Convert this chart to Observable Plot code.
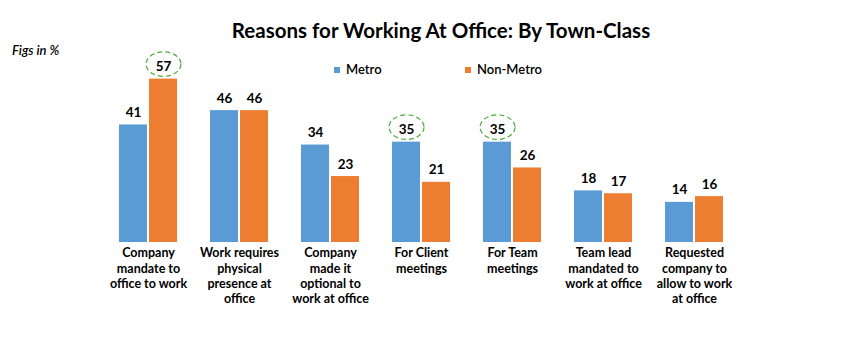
<!DOCTYPE html>
<html>
<head>
<meta charset="utf-8">
<script src="https://cdn.jsdelivr.net/npm/d3@7"></script>
<script src="https://cdn.jsdelivr.net/npm/@observablehq/plot@0.6"></script>
<style>
  body { margin: 0; background: #fff; }
  #wrap { position: relative; width: 851px; height: 350px; font-family: Lato, "Open Sans", sans-serif; color: #000; }
  #title { position: absolute; left: 0; width: 882px; top: 16px; text-align: center; font-weight: bold; font-size: 20.5px; line-height: 28px; }
  #note { position: absolute; left: 12px; top: 42px; font-style: italic; font-weight: 600; font-size: 13px; }
  #legend { position: absolute; top: 61px; left: 334px; font-size: 13px; font-weight: 600; }
  .li { position: absolute; white-space: nowrap; line-height: 16px; }
  .sw { display: inline-block; width: 6px; height: 6px; margin-right: 6px; vertical-align: middle; position: relative; top: -1px; }
  #chart { position: absolute; left: 0; top: 0; }
</style>
</head>
<body>
<div id="wrap">
  <div id="chart"></div>
  <div id="title">Reasons for Working At Office: By Town-Class</div>
  <div id="note">Figs in %</div>
  <div id="legend"></div>
</div>
<script>
const categories = [
  "Company\nmandate to\noffice to work",
  "Work requires\nphysical\npresence at\noffice",
  "Company\nmade it\noptional to\nwork at office",
  "For Client\nmeetings",
  "For Team\nmeetings",
  "Team lead\nmandated to\nwork at office",
  "Requested\ncompany to\nallow to work\nat office"
];
const seriesNames = ["Metro", "Non-Metro"];
const metro    = [41, 46, 34, 35, 35, 18, 14];
const nonMetro = [57, 46, 23, 21, 26, 17, 16];
const colors = ["#5B9BD5", "#ED7D31"];
// highlighted (circled) values: [category index, series name]
const highlights = [[0, "Non-Metro"], [3, "Metro"], [4, "Metro"]];

const rows = [];
categories.forEach((c, i) => {
  rows.push({cat: c, series: "Metro", value: metro[i]});
  rows.push({cat: c, series: "Non-Metro", value: nonMetro[i]});
});
const hl = highlights.map(([i, s]) => rows.find(r => r.cat === categories[i] && r.series === s));

const ellipse = {
  draw(context, size) {
    const rx = Math.sqrt(size / Math.PI), ry = rx * 0.7, k = 0.5523;
    context.moveTo(rx, 0);
    context.bezierCurveTo(rx, ry * k, rx * k, ry, 0, ry);
    context.bezierCurveTo(-rx * k, ry, -rx, ry * k, -rx, 0);
    context.bezierCurveTo(-rx, -ry * k, -rx * k, -ry, 0, -ry);
    context.bezierCurveTo(rx * k, -ry, rx, -ry * k, rx, 0);
    context.closePath();
  }
};

const chart = Plot.plot({
  width: 851,
  height: 350,
  marginTop: 70,
  marginBottom: 108,
  marginLeft: 119,
  marginRight: 127.5,
  style: {fontFamily: "Lato, 'Open Sans', sans-serif", color: "#000", background: "#fff"},
  fx: {domain: categories, paddingInner: 0.363, paddingOuter: 0, label: null},
  x: {domain: seriesNames, paddingInner: 0.07, paddingOuter: 0, axis: null},
  y: {domain: [0, 60], axis: null},
  color: {domain: seriesNames, range: colors},
  marks: [
    Plot.barY(rows, {fx: "cat", x: "series", y: "value", fill: "series"}),
    Plot.text(rows, {fx: "cat", x: "series", y: "value", text: d => String(d.value),
      lineAnchor: "bottom", dy: -8, fontSize: 13.5, fontWeight: "bold", fill: "#000"}),
    Plot.dot(hl, {fx: "cat", x: "series", y: "value", dy: -15, r: 17.5, symbol: ellipse,
      fill: "none", stroke: "#4CA83A", strokeWidth: 1.2, strokeDasharray: "5,3"}),
    Plot.axisFx({anchor: "bottom", tickSize: 0, tickPadding: 4, label: null,
      fontSize: 12.5, fontWeight: "bold", lineHeight: 1.22, fill: "#000"})
  ]
});
document.getElementById("chart").appendChild(chart);

const legend = document.getElementById("legend");
const legendX = [0, 131];
seriesNames.forEach((s, i) => {
  const el = document.createElement("div");
  el.className = "li";
  el.style.left = legendX[i] + "px";
  el.innerHTML = `<span class="sw" style="background:${colors[i]}"></span>${s}`;
  legend.appendChild(el);
});
</script>
</body>
</html>
